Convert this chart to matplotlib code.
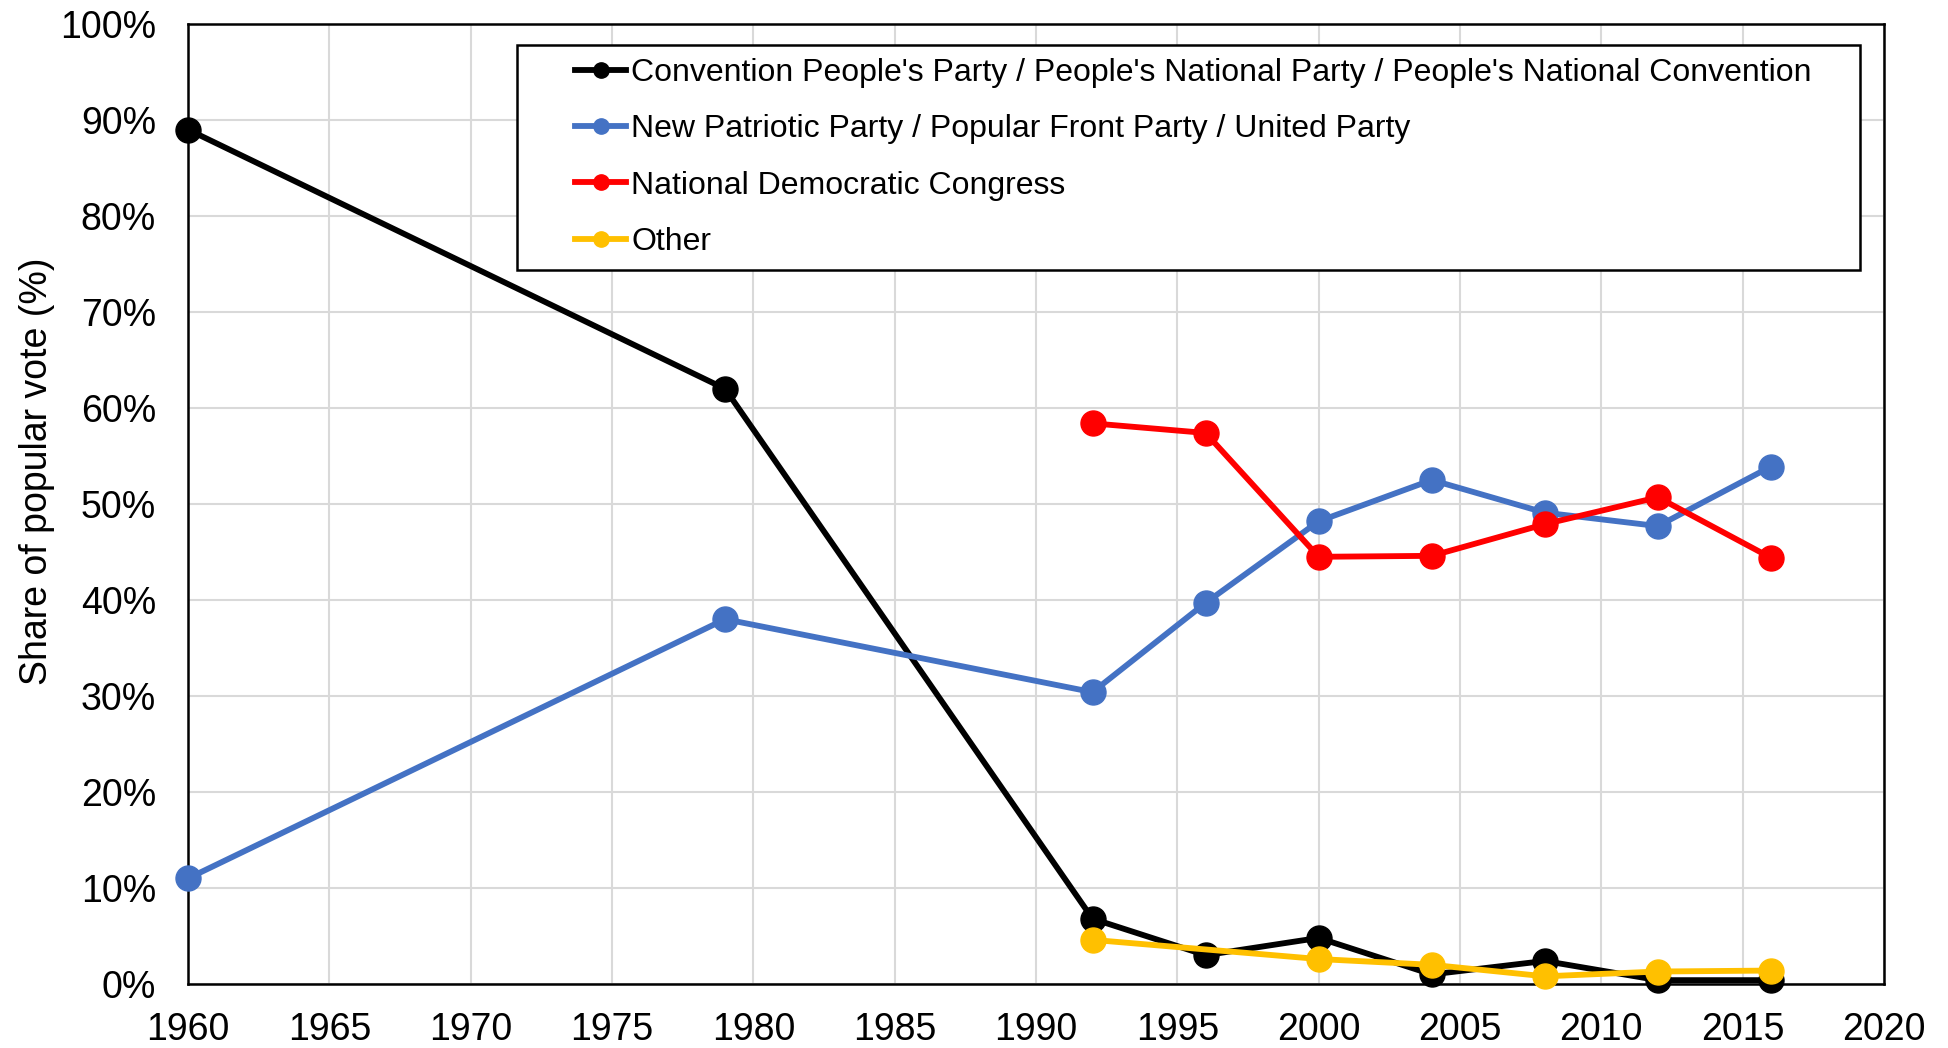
import matplotlib.pyplot as plt
from matplotlib.lines import Line2D
from matplotlib.legend_handler import HandlerLine2D
from matplotlib.ticker import PercentFormatter

plt.rcParams['font.family'] = ['Liberation Sans', 'DejaVu Sans']

# election years and vote shares (%)
years_cpp = [1960, 1979, 1992, 1996, 2000, 2004, 2008, 2012, 2016]
cpp = [89.0, 62.0, 6.8, 3.0, 4.8, 1.0, 2.4, 0.4, 0.4]

years_npp = [1960, 1979, 1992, 1996, 2000, 2004, 2008, 2012, 2016]
npp = [11.0, 38.0, 30.4, 39.7, 48.2, 52.5, 49.1, 47.7, 53.9]

years_ndc = [1992, 1996, 2000, 2004, 2008, 2012, 2016]
ndc = [58.4, 57.4, 44.5, 44.6, 47.9, 50.7, 44.4]

years_other = [1992, 2000, 2004, 2008, 2012, 2016]
other = [4.6, 2.6, 2.0, 0.8, 1.3, 1.4]

labels = ["Convention People's Party / People's National Party / People's National Convention",
          "New Patriotic Party / Popular Front Party / United Party",
          "National Democratic Congress",
          "Other"]
colors = ["#000000", "#4472c4", "#ff0000", "#ffc000"]

fig = plt.figure(figsize=(19.48, 10.48), dpi=100)
ax = fig.add_axes([188 / 1948, 1 - 984 / 1048, (1884 - 188) / 1948, (984 - 24) / 1048])

series = [(years_cpp, cpp), (years_npp, npp), (years_ndc, ndc), (years_other, other)]
for (x, y), c in zip(series, colors):
    ax.plot(x, y, color=c, lw=4.2, marker="o", ms=18, clip_on=False, zorder=3)

ax.set_xlim(1960, 2020)
ax.set_ylim(0, 100)
ax.set_xticks(range(1960, 2021, 5))
ax.set_yticks(range(0, 101, 10))
ax.yaxis.set_major_formatter(PercentFormatter(decimals=0))
ax.tick_params(length=0, labelsize=27)
ax.tick_params(axis="y", pad=23)
ax.tick_params(axis="x", pad=20)
ax.grid(color="#d9d9d9", lw=1.5)
ax.set_axisbelow(True)
for s in ax.spines.values():
    s.set_color("black")
    s.set_linewidth(1.8)

ax.set_ylabel("Share of popular vote (%)", fontsize=27)
ax.yaxis.set_label_coords(-0.0785, 0.534)

# legend: short line on the right part of a wider handle box
handles = [Line2D([], [], color=c, lw=4.2, marker="o", ms=11) for c in colors]
hmap = {h: HandlerLine2D(xpad=1.4) for h in handles}
leg = ax.legend(handles, labels, handler_map=hmap, loc="upper left",
                bbox_to_anchor=(0.194, 0.0, 0.792, 0.9784), mode="expand",
                borderaxespad=0, fontsize=23, frameon=True, fancybox=False,
                handlelength=3.0, handletextpad=0.15, labelspacing=0.82,
                borderpad=0.42, edgecolor="black")
leg.get_frame().set_linewidth(1.8)
leg.get_frame().set_alpha(1)

fig.savefig("out.png", dpi=100)
